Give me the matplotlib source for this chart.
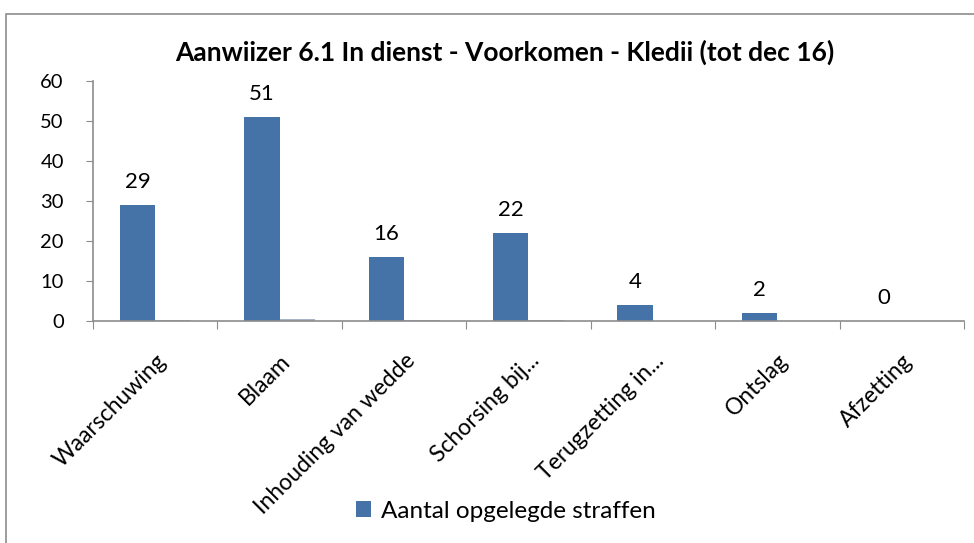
# Indicator 6.1 chart
import numpy as np
import matplotlib.pyplot as plt
from matplotlib.patches import Rectangle

# Data
categories = ['Waarschuwing', 'Blaam', 'Inhouding van wedde', 'Schorsing bij...',
              'Terugzetting in...', 'Ontslag', 'Afzetting']
straffen = [29, 51, 16, 22, 4, 2, 0]
aandeel = [0.23, 0.41, 0.13, 0.18, 0.03, 0.02, 0.0]

plt.rcParams['font.family'] = ['Lato', 'DejaVu Sans']

fig = plt.figure(figsize=(9.74, 5.43), dpi=100)
fig.patches.append(Rectangle((6 / 974, -0.1), 1.1, 1 - 14 / 543 + 0.1,
                             transform=fig.transFigure, fill=False,
                             edgecolor='#8c8c8c', linewidth=1.2))

ax = fig.add_axes([93 / 974, 1 - 321 / 543, (964 - 93) / 974, 240 / 543])

x = np.arange(len(categories))
w = 1 / 3.5
bars = ax.bar(x - w / 2, straffen, w, color='#4572A7', label='Aantal opgelegde straffen')
ax.bar(x + w / 2, aandeel, w, color='#A7B4C8')

# Labels boven de balken
for xi, v in zip(x - w / 2, straffen):
    ax.text(xi, v + 3.2, str(v), ha='center', va='bottom', fontsize=16)

ax.set_xlim(-0.5, len(categories) - 0.5)
ax.set_ylim(0, 60)
ax.set_yticks(range(0, 61, 10))
ax.tick_params(axis='y', labelsize=14.5, length=5, color='#8c8c8c', pad=16)

ax.set_xticks(np.arange(-0.5, len(categories)), minor=False)
ax.set_xticklabels([])
ax.set_xticks(x, minor=True)
ax.set_xticklabels(categories, minor=True, rotation=45, ha='right',
                   rotation_mode='anchor', fontsize=16.5)
ax.tick_params(axis='x', which='major', length=6, color='#8c8c8c')
ax.tick_params(axis='x', which='minor', length=0, pad=21)

for s in ['top', 'right']:
    ax.spines[s].set_visible(False)
for s in ['left', 'bottom']:
    ax.spines[s].set_color('#8c8c8c')
    ax.spines[s].set_linewidth(1.2)

fig.text(505 / 974, 1 - 52 / 543, 'Aanwiizer 6.1 In dienst - Voorkomen - Kledii (tot dec 16)',
         ha='center', va='center', fontsize=19, fontweight='bold')

fig.legend(handles=[bars], loc='center', bbox_to_anchor=(506 / 974, 1 - 511 / 543),
           frameon=False, fontsize=17.5, handlelength=0.6, handleheight=0.6,
           handletextpad=0.4)

fig.savefig('out.png', dpi=100)
